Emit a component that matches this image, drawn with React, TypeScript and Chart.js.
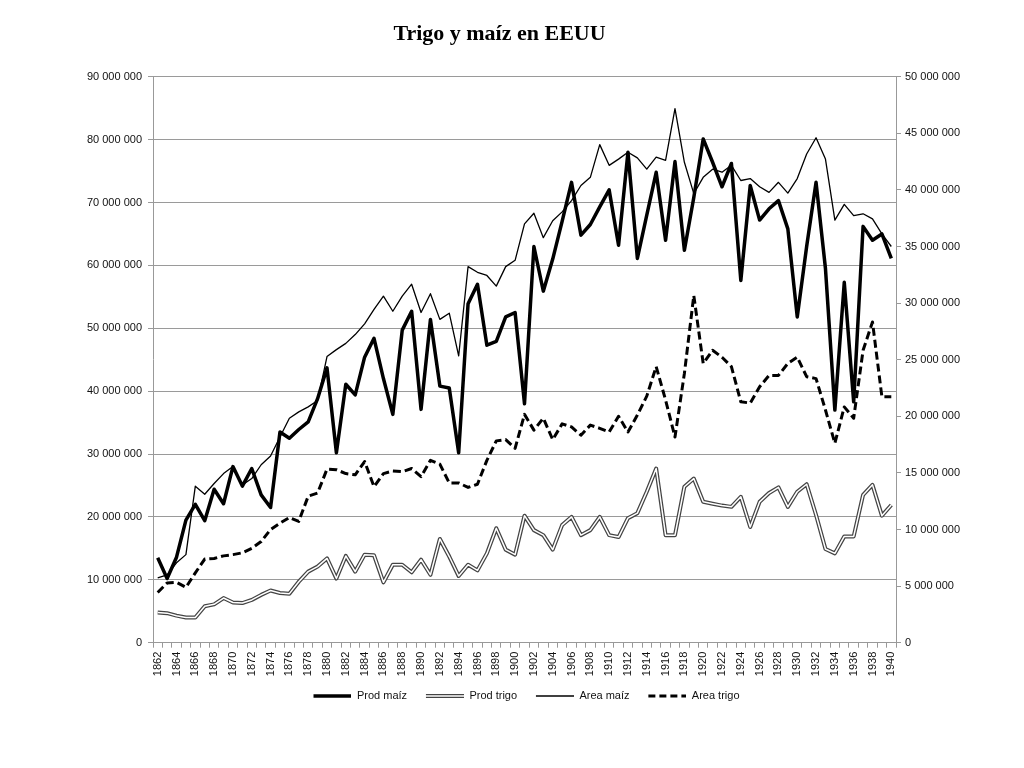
import React, { useEffect, useRef } from "react";
import { Chart, registerables } from "chart.js";

Chart.register(...registerables);

const years: string[] = Array.from({ length: 79 }, (_, i) => String(1862 + i));

// Left axis (millions): production
const prodMaiz: number[] = [
  13.5, 10.2, 13.6, 19.5, 22.0, 19.4, 24.4, 22.1, 28.0, 24.9, 27.7, 23.5, 21.5, 33.5, 32.5, 33.9, 35.1, 38.8, 43.7, 30.2,
  41.1, 39.4, 45.4, 48.4, 42.0, 36.3, 49.7, 52.7, 37.1, 51.4, 40.8, 40.5, 30.2, 53.9, 57.0, 47.3, 47.9, 51.8, 52.5, 38.0,
  63.0, 55.9, 61.0, 67.0, 73.2, 64.8, 66.5, 69.3, 72.0, 63.2, 78.0, 61.1, 68.0, 74.8, 64.0, 76.5, 62.4, 70.8, 80.1,
  76.4, 72.5, 76.2, 57.6, 72.7, 67.2, 69.0, 70.3, 65.8, 51.8, 63.0, 73.2, 59.5, 37.0, 57.3, 38.3, 66.2, 64.0, 65.0, 61.1,
];
const prodTrigo: number[] = [
  4.8, 4.7, 4.3, 4.0, 4.0, 5.8, 6.1, 7.1, 6.4, 6.3, 6.8, 7.6, 8.3, 7.9, 7.8, 9.7, 11.3, 12.1, 13.4, 10.2,
  13.8, 11.3, 14.0, 13.9, 9.6, 12.4, 12.4, 11.2, 13.2, 10.8, 16.5, 13.7, 10.6, 12.4, 11.5, 14.2, 18.2, 14.8, 14.0, 20.2,
  17.9, 17.1, 14.8, 18.7, 20.0, 17.1, 17.9, 20.0, 17.1, 16.8, 19.8, 20.6, 24.0, 27.7, 17.1, 17.1, 24.8, 26.1, 22.4,
  22.1, 21.8, 21.6, 23.2, 18.4, 22.4, 23.8, 24.7, 21.6, 24.0, 25.2, 20.3, 14.9, 14.2, 16.9, 16.9, 23.5, 25.1, 20.2, 21.9,
];
// Right axis (millions): area
const areaMaiz: number[] = [
  5.72, 6.0, 7.06, 7.78, 13.83, 13.11, 14.06, 14.94, 15.56, 13.94, 14.5, 15.72, 16.5, 18.17, 19.83, 20.39, 20.83, 21.39, 25.28, 25.89,
  26.44, 27.22, 28.17, 29.44, 30.61, 29.28, 30.61, 31.67, 29.17, 30.83, 28.56, 29.11, 25.33, 33.22, 32.72, 32.44, 31.5, 33.22, 33.78, 37.0,
  37.94, 35.78, 37.28, 38.06, 39.06, 40.39, 41.11, 44.0, 42.17, 42.72, 43.33, 42.83, 41.83, 42.89, 42.61, 47.17, 42.44, 39.67, 41.11,
  41.83, 41.56, 42.17, 40.83, 41.0, 40.28, 39.78, 40.67, 39.72, 41.0, 43.17, 44.61, 42.72, 37.33, 38.72, 37.72, 37.89, 37.44, 36.11, 35.0,
];
const areaTrigo: number[] = [
  4.44, 5.28, 5.33, 4.89, 6.17, 7.39, 7.44, 7.67, 7.78, 7.94, 8.33, 8.94, 10.0, 10.56, 11.06, 10.72, 12.94, 13.22, 15.33, 15.28,
  14.94, 14.83, 16.0, 13.78, 14.94, 15.17, 15.11, 15.39, 14.67, 16.11, 15.78, 14.11, 14.11, 13.72, 14.0, 16.11, 17.83, 17.94, 17.17, 20.17,
  18.78, 19.83, 17.94, 19.33, 19.06, 18.33, 19.22, 18.94, 18.61, 20.0, 18.61, 20.11, 21.78, 24.39, 21.44, 18.17, 23.78, 30.67, 24.67,
  25.83, 25.22, 24.39, 21.28, 21.17, 22.61, 23.61, 23.61, 24.67, 25.22, 23.5, 23.33, 20.56, 17.61, 20.83, 19.83, 25.83, 28.33, 21.72, 21.72,
];

const leftTicksMax = 90000000;
const rightTicksMax = 50000000;
const seriesNames = ["Prod maíz", "Prod trigo", "Area maíz", "Area trigo"];

const fmt = (v: number) => String(Math.round(v)).replace(/\B(?=(\d{3})+(?!\d))/g, " ");
const M = (a: number[]) => a.map((v) => v * 1e6);

const SW = 44; // swatch box width (blank lead-in + 38px line)

function swatch(kind: number): HTMLCanvasElement {
  const c = document.createElement("canvas");
  c.width = SW;
  c.height = 8;
  const ctx = c.getContext("2d")!;
  ctx.lineCap = "butt";
  const line = (color: string, w: number, dash: number[] = []) => {
    ctx.setLineDash(dash);
    ctx.strokeStyle = color;
    ctx.lineWidth = w;
    ctx.beginPath();
    ctx.moveTo(SW - 38, 4);
    ctx.lineTo(SW, 4);
    ctx.stroke();
  };
  if (kind === 0) line("#000", 3.5);
  if (kind === 1) {
    line("#444", 4);
    line("#fff", 1.5);
  }
  if (kind === 2) line("#000", 1.3);
  if (kind === 3) line("#000", 3, [7, 4]);
  return c;
}

export default function App() {
  const ref = useRef<HTMLCanvasElement | null>(null);
  useEffect(() => {
    if (!ref.current) return;
    const swatches = [0, 1, 2, 3].map(swatch);
    const chart = new Chart(ref.current, {
      type: "line",
      data: {
        labels: years,
        datasets: [
          { label: seriesNames[0], data: M(prodMaiz), yAxisID: "yL", borderColor: "#000", borderWidth: 3.5, order: 0 },
          { label: seriesNames[1], data: M(prodTrigo), yAxisID: "yL", borderColor: "#444", borderWidth: 4, order: 4 },
          { label: "inner", data: M(prodTrigo), yAxisID: "yL", borderColor: "#fff", borderWidth: 1.5, order: 3 },
          { label: seriesNames[2], data: M(areaMaiz), yAxisID: "yR", borderColor: "#000", borderWidth: 1.3, order: 1 },
          { label: seriesNames[3], data: M(areaTrigo), yAxisID: "yR", borderColor: "#000", borderWidth: 3, borderDash: [8, 4], order: 2 },
        ].map((d) => ({ ...d, pointRadius: 0, pointHoverRadius: 0, fill: false, tension: 0, borderJoinStyle: "round" as const })),
      },
      options: {
        animation: false,
        responsive: true,
        maintainAspectRatio: false,
        layout: { padding: { left: 23, right: 0, top: 68.7, bottom: 48.5 } },
        plugins: {
          title: { display: false },
          tooltip: { enabled: false },
          legend: {
            position: "bottom",
            labels: {
              usePointStyle: true,
              pointStyleWidth: SW,
              padding: 12.8,
              color: "#111",
              font: { family: "Liberation Sans", size: 11 },
              generateLabels: () =>
                [0, 1, 3, 4].map((di, i) => ({
                  text: seriesNames[i],
                  pointStyle: swatches[i] as any,
                  datasetIndex: di,
                  hidden: false,
                  lineWidth: 0,
                  fillStyle: "#000",
                  strokeStyle: "#000",
                  fontColor: "#111",
                })),
            },
          },
        },
        scales: {
          x: {
            type: "category",
            offset: true,
            afterFit: (s: any) => {
              s.height = 35;
            },
            grid: { display: true, drawOnChartArea: false, drawTicks: true, tickLength: 5, offset: true, color: "#999" },
            border: { display: true, color: "#999" },
            ticks: {
              autoSkip: false,
              minRotation: 90,
              maxRotation: 90,
              padding: 4,
              color: "#111",
              font: { family: "Liberation Sans", size: 11 },
              callback: (_v: any, i: number) => (i % 2 === 0 ? years[i] : ""),
            },
          },
          yL: {
            type: "linear",
            position: "left",
            min: 0,
            max: leftTicksMax,
            afterFit: (s: any) => {
              s.width = 122;
            },
            grid: { color: "#9a9a9a", lineWidth: 1, tickLength: 5, drawTicks: true },
            border: { display: true, color: "#999" },
            ticks: {
              stepSize: 10000000,
              padding: 6,
              color: "#111",
              font: { family: "Liberation Sans", size: 11 },
              callback: (v: any) => fmt(Number(v)),
            },
          },
          yR: {
            type: "linear",
            position: "right",
            min: 0,
            max: rightTicksMax,
            afterFit: (s: any) => {
              s.width = 120;
            },
            grid: { drawOnChartArea: false, tickLength: 5, drawTicks: true, color: "#999" },
            border: { display: true, color: "#999" },
            ticks: {
              stepSize: 5000000,
              padding: 4,
              color: "#111",
              font: { family: "Liberation Sans", size: 11 },
              callback: (v: any) => fmt(Number(v)),
            },
          },
        },
      },
    });
    return () => chart.destroy();
  }, []);

  return (
    <div style={{ position: "relative", width: 1008, height: 752 }}>
      <canvas ref={ref} />
      <div
        style={{
          position: "absolute",
          left: 0,
          top: 14,
          width: 983,
          textAlign: "center",
          fontFamily: "'Liberation Serif', serif",
          fontWeight: "bold",
          fontSize: 22,
          lineHeight: "22px",
          color: "#000",
        }}
      >
        Trigo y maíz en EEUU
      </div>
    </div>
  );
}
